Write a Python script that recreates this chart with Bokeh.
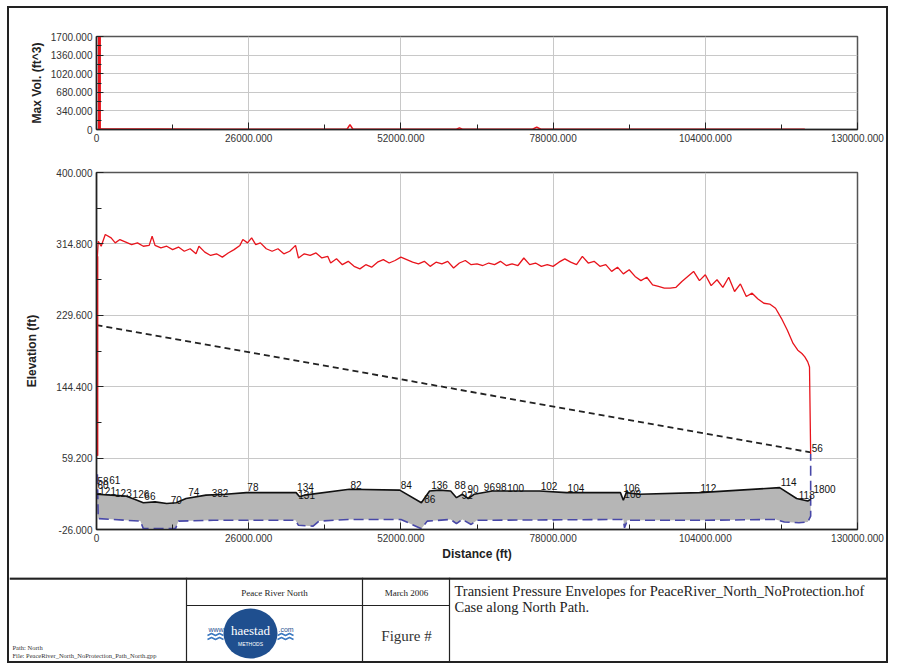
from bokeh.plotting import figure
from bokeh.models import Range1d, FixedTicker, NumeralTickFormatter
from bokeh.layouts import column
from bokeh.embed import file_html
from bokeh.resources import INLINE
from bokeh.core.properties import value

SANS = "Liberation Sans"
SERIF = "Liberation Serif"

# ---------------- data ----------------
X_TICKS = [0, 26000, 52000, 78000, 104000, 130000]
X_MINOR = [13000, 39000, 65000, 91000, 117000]
VOL_TICKS = [0, 340, 680, 1020, 1360, 1700]
VOL_MINOR = [170, 510, 850, 1190, 1530]
ELEV_TICKS = [-26.0, 59.2, 144.4, 229.6, 314.8, 400.0]
ELEV_MINOR = [16.6, 101.8, 187.0, 272.2, 357.4]

vol_x = [500, 500, 500, 700, 10000, 20000, 30000, 42800, 43300, 43800, 55000,
         61500, 62000, 62500, 74500, 75200, 75900, 90000, 105000, 121000]
vol_y = [0, 1700, 20, 10, 8, 5, 6, 5, 90, 5, 6,
         5, 30, 5, 5, 45, 5, 6, 5, 5]

hgl_max_x = [150, 150, 300, 800, 1500, 2500, 3200, 4000, 5000, 6000, 7000, 8000, 9000,
             9500, 10000, 11000, 12000, 13000, 14000, 15000, 16000, 17000, 17500,
             18500, 19500, 20500, 21500, 22500, 23500, 24500, 25000, 25800, 26500,
             27200, 28000, 29000, 30000, 31000, 32000, 33000, 34000, 34500, 35500,
             36500, 37500, 38500, 39500, 40000, 41000, 42000, 43000, 44000, 45000,
             46000, 47000, 48000, 49000, 50000, 51000, 52000, 53000, 54000, 55000,
             56000, 57000, 58000, 59000, 60000, 61000, 62000, 63000, 64000, 65000,
             66000, 67000, 68000, 69000, 70000, 71000, 72000, 73000, 74000, 75000,
             76000, 77000, 78000, 79000, 80000, 81000, 82000, 83000, 84000, 85000,
             86000, 87000, 88000, 89000, 90000, 91000, 92000, 93000, 94000, 95000,
             96000, 97000, 98000, 99000, 100000, 101000, 102000, 103000, 104000,
             105000, 106000, 107000, 108000, 109000, 110000, 111000, 112000, 113000,
             114000, 115000, 116000, 117000, 118000, 119000, 119800, 120500, 121000,
             121500, 121800, 122000]
hgl_max_y = [62, 300, 318, 312, 326, 322, 316, 320, 317, 314, 316, 312, 313,
             324, 313, 310, 312, 308, 311, 306, 309, 303, 312,
             305, 301, 303, 299, 304, 308, 313, 320, 316, 322,
             314, 316, 309, 306, 309, 303, 306, 313, 298, 303,
             301, 304, 298, 300, 292, 297, 290, 294, 288, 285,
             290, 287, 293, 296, 292, 295, 299, 296, 293, 291,
             294, 288, 293, 291, 294, 286, 292, 295, 290, 291,
             289, 292, 290, 294, 289, 291, 289, 298, 290, 292,
             288, 290, 288, 293, 297, 293, 290, 300, 292, 294,
             288, 290, 282, 287, 279, 284, 276, 271, 275, 266,
             264, 262, 262, 263, 270, 276, 282, 271, 278,
             265, 272, 263, 275, 258, 267, 252, 256, 249,
             244, 243, 238, 226, 212, 196, 188, 184, 180,
             174, 168, 64]

steady_x = [0, 122000]
steady_y = [218, 66]

profile_x = [0, 2500, 5000, 6500, 8000, 10000, 12000, 13600, 15300, 18700, 22000,
             25600, 34100, 34700, 35500, 43200, 51800, 55500, 56300, 56900, 58600,
             60500, 61500, 62500, 63500, 64500, 67600, 75700, 80300, 89500, 90000,
             90500, 92700, 103000, 116700, 119600, 121500, 122000]
profile_y = [16, 15, 14, 10, 6, 7, 5, 6, 11, 15, 16,
             18, 18, 13, 15, 22, 21, 6, 14, 20, 21,
             20, 12, 16, 11, 16, 20, 20, 18, 18, 9,
             18, 16, 18, 24, 11, 8, 10]

hgl_min_x = [150, 300, 5000, 7500, 8000, 13500, 14000, 20000, 34000, 34500, 37000,
             38000, 43000, 52000, 55500, 56500, 60500, 61500, 62500, 64000, 65000,
             90000, 90200, 90700, 104000, 116000, 117500, 120000, 121500, 122000, 122000]
hgl_min_y = [40, -13, -15, -16, -25, -25, -16, -15, -15, -21, -22,
             -16, -14, -14, -25, -16, -14, -19, -14, -20, -15,
             -14, -24, -15, -15, -14, -17, -18, -17, -10, 64]

node_x = [0, 0, 2000, 300, 3000, 6000, 8000, 12500, 15500, 19500, 25600, 34100,
          34300, 43200, 51800, 55800, 57000, 61000, 62200, 63200, 66000, 68000,
          70000, 75700, 80300, 89800, 90000, 103000, 116700, 119800, 122000, 122300]
node_y = [27, 22, 28, 15, 13, 12, 9, 5, 14, 13, 20, 20,
          10, 22, 22, 6, 22, 22, 10, 18, 20, 20,
          19, 21, 19, 19, 12, 19, 26, 10, 66, 18]
node_lbl = ["58", "60", "61", "121", "123", "126", "66", "70", "74", "382", "78", "134",
            "131", "82", "84", "86", "136", "88", "92", "90", "96", "98",
            "100", "102", "104", "106", "108", "112", "114", "118", "56", "1800"]

page_lines = ["Path: North", "File: PeaceRiver_North_NoProtection_Path_North.gpp"]
title_lines = ["Transient Pressure Envelopes for PeaceRiver_North_NoProtection.hof",
               "Case along North Path."]

W = 877
LEFT, RIGHT = 87, 29


def style_axes(p, xt, xm, yt, ym, ylabel, xlabel=None, ystand=6):
    p.xaxis.ticker = FixedTicker(ticks=xt, minor_ticks=xm)
    p.yaxis.ticker = FixedTicker(ticks=yt, minor_ticks=ym)
    p.xgrid.ticker = FixedTicker(ticks=xt)
    p.ygrid.ticker = FixedTicker(ticks=yt)
    for ax in p.axis:
        ax.formatter = NumeralTickFormatter(format="0.000")
        ax.major_label_overrides = {0: "0"}
        ax.major_label_text_font = SANS
        ax.major_label_text_font_size = "10px"
        ax.major_label_text_color = "#333333"
        ax.major_tick_in = 7
        ax.major_tick_out = 0
        ax.minor_tick_in = 5
        ax.minor_tick_out = 0
        ax.axis_line_color = "#222222"
        ax.axis_line_width = 1.5
        ax.major_tick_line_color = "#222222"
        ax.minor_tick_line_color = "#222222"
        ax.axis_label_text_font = SANS
        ax.axis_label_text_font_style = "bold"
        ax.axis_label_text_font_size = "12px"
        ax.axis_label_text_color = "#222222"
        ax.major_label_standoff = 4
    p.yaxis.axis_label = ylabel
    p.yaxis.axis_label_standoff = ystand
    if xlabel:
        p.xaxis.axis_label = xlabel
        p.xaxis.axis_label_standoff = 2
    for g in (p.xgrid, p.ygrid):
        g.grid_line_color = "#c8c8c8"
        g.grid_line_width = 1
    p.outline_line_color = "#555555"
    p.outline_line_width = 1.5


# ---------------- top chart ----------------
p1 = figure(width=W, height=147, output_backend="svg", toolbar_location=None,
            x_range=Range1d(0, 130000), y_range=Range1d(0, 1700),
            min_border_left=LEFT, min_border_right=RIGHT,
            min_border_top=28, min_border_bottom=26)
p1.line(vol_x, vol_y, line_color="#e8141c", line_width=1.5)
p1.line(vol_x[:2], vol_y[:2], line_color="#e8141c", line_width=3)
style_axes(p1, X_TICKS, X_MINOR, VOL_TICKS, VOL_MINOR, "Max Vol. (ft^3)", ystand=4)

# ---------------- main chart ----------------
p2 = figure(width=W, height=422, output_backend="svg", toolbar_location=None,
            x_range=Range1d(0, 130000), y_range=Range1d(-26, 400),
            min_border_left=LEFT, min_border_right=RIGHT,
            min_border_top=17, min_border_bottom=48)
fill_x = profile_x + hgl_min_x[1:-1][::-1]
fill_y = profile_y + hgl_min_y[1:-1][::-1]
p2.patch(fill_x, fill_y, fill_color="#b6b6b6", line_color=None)
p2.line(hgl_min_x, hgl_min_y, line_color="#4848a8", line_width=1.6, line_dash="10 5")
p2.line(profile_x, profile_y, line_color="#111111", line_width=1.6)
p2.line(steady_x, steady_y, line_color="#222222", line_width=1.8, line_dash="6 4")
p2.line(hgl_max_x, hgl_max_y, line_color="#e8141c", line_width=1.3)
p2.line(hgl_max_x[:2], hgl_max_y[:2], line_color="#e8141c", line_width=2)
p2.text(node_x, node_y, text=node_lbl, text_font=value(SANS), text_font_size="10px",
        text_color="#111111", text_baseline="bottom", text_align="left", x_offset=1)
style_axes(p2, X_TICKS, X_MINOR, ELEV_TICKS, ELEV_MINOR, "Elevation (ft)",
           xlabel="Distance (ft)", ystand=14)

# ---------------- title block ----------------
H = 84
p3 = figure(width=W, height=H, output_backend="svg", toolbar_location=None,
            x_range=Range1d(0, W), y_range=Range1d(0, H),
            min_border=0, outline_line_color=None)
if hasattr(p3, "frame_align"):
    p3.frame_align = False
p3.axis.visible = False
p3.grid.visible = False
p3.segment(x0=[0, 177, 353, 440, 177], y0=[83, 0, 0, 0, 56],
           x1=[W, 177, 353, 440, 440], y1=[83, 84, 84, 84, 56],
           line_color="#222222", line_width=[2.5, 1.2, 1.2, 1.2, 1.2])
p3.text([265, 397], [69, 69], text=["Peace River North", "March 2006"],
        text_font=value(SERIF), text_font_size="9px", text_color="#222222",
        text_align="center", text_baseline="middle")
p3.text([445, 445], [71, 55], text=title_lines, text_font=value(SERIF),
        text_font_size="14.5px", text_color="#222222", text_baseline="middle")
p3.text([397], [26], text=["Figure #"], text_font=value(SERIF), text_font_size="15px",
        text_color="#333333", text_align="center", text_baseline="middle")
p3.text([3, 3], [14, 6], text=page_lines, text_font=value(SERIF),
        text_font_size="6.5px", text_color="#333333", text_baseline="middle")
# logo
p3.ellipse([241], [28], width=[54], height=[50], fill_color="#1f4f8f", line_color=None)
p3.text([241], [31], text=["haestad"], text_font=value(SERIF), text_font_size="13px",
        text_color="white", text_align="center", text_baseline="middle")
p3.text([241], [18], text=["METHODS"], text_font=value(SANS), text_font_size="5px",
        text_color="white", text_align="center", text_baseline="middle")
p3.text([199, 269], [32, 32], text=["www.", ".com"], text_font=value(SANS),
        text_font_size="7px", text_color="#1f4f8f", text_baseline="middle")
p3.multi_line([[198, 202, 206, 210, 214], [268, 272, 276, 280, 284],
               [198, 202, 206, 210, 214], [268, 272, 276, 280, 284]],
              [[26, 28, 26, 28, 26], [26, 28, 26, 28, 26],
               [22, 24, 22, 24, 22], [22, 24, 22, 24, 22]],
              line_color="#3a78c0", line_width=1.5)

layout = column(p1, p2, p3, styles={"border": "2.5px solid #222222",
                                    "margin": "6px 0 0 7px"})
open("out.html", "w").write(file_html(layout, INLINE))
